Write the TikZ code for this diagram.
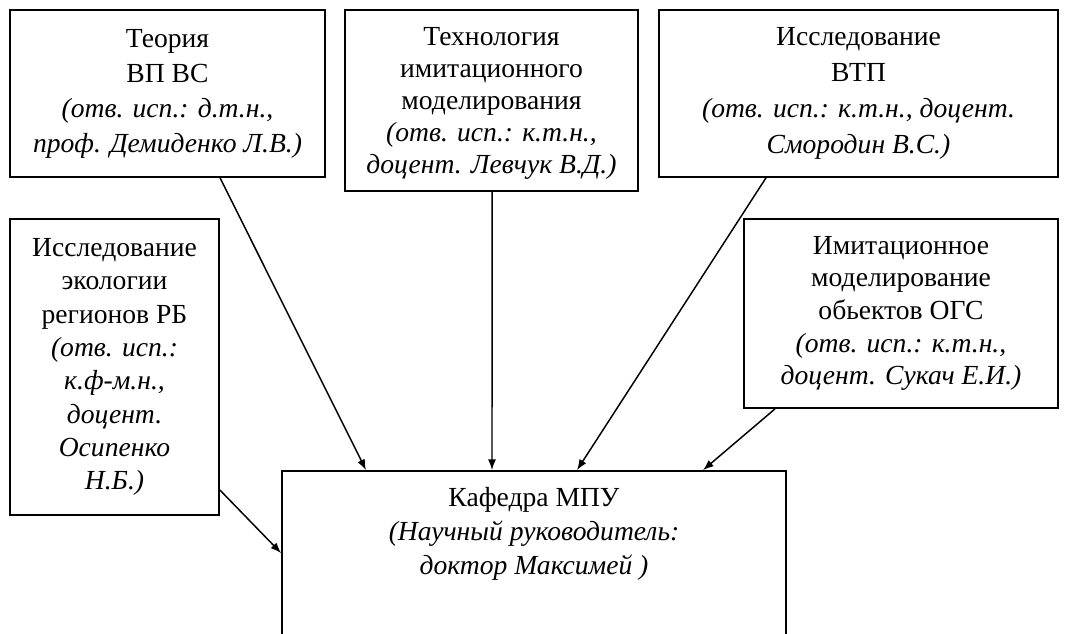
\documentclass[tikz,border=0pt]{standalone}
\usepackage{fontspec}
\setmainfont{Liberation Serif}
\usetikzlibrary{arrows.meta}
\begin{document}
\begin{tikzpicture}[x=0.75pt,y=-0.75pt,
  box/.style={draw, line width=1.3pt, align=center, inner sep=0pt,
    font=\fontsize{20.7}{25.5}\selectfont},
  txt/.style={align=center, inner sep=0pt, font=\fontsize{20.7}{25.5}\selectfont},
  arr/.style={line width=1.1pt, -{Latex[length=8pt,width=6pt]}}]
\useasboundingbox (0,0) rectangle (1069,634);
\clip (0,0) rectangle (1069,634);

\node[box, minimum width=236.25pt, minimum height=125.25pt,
  font=\fontsize{20.7}{26.25}\selectfont] (A) at (167.5,93.5)
  {Теория\\ВП ВС\\\textit{(отв. исп.: д.т.н.,}\\\textit{проф. Демиденко Л.В.)}};
\node[box, minimum width=219.75pt, minimum height=135.75pt, text depth=-3pt,
  font=\fontsize{20.7}{24}\selectfont] (B) at (491.5,100.5)
  {Технология\\имитационного\\моделирования\\\textit{(отв. исп.: к.т.н.,}\\\textit{доцент. Левчук В.Д.)}};
\node[box, minimum width=299.25pt, minimum height=125.25pt,
  font=\fontsize{20.7}{27}\selectfont] (C) at (858.5,93.5)
  {Исследование\\ВТП\\\textit{(отв. исп.: к.т.н., доцент.}\\\textit{Смородин В.С.)}};
\node[box, minimum width=156.75pt, minimum height=222pt,
  font=\fontsize{20.7}{25}\selectfont] (D) at (114.5,367)
  {Исследование\\экологии\\регионов РБ\\\textit{(отв. исп.:}\\\textit{к.ф-м.н.,}\\\textit{доцент.}\\\textit{Осипенко}\\\textit{Н.Б.)}};
\node[box, minimum width=235.5pt, minimum height=141.75pt,
  font=\fontsize{20.7}{24.5}\selectfont] (E) at (901,313.5)
  {Имитационное\\моделирование\\обьектов ОГС\\\textit{(отв. исп.: к.т.н.,}\\\textit{доцент. Сукач Е.И.)}};
\node[box, minimum width=378pt, minimum height=156.75pt] (F) at (534,575.5) {};
\node[txt, anchor=north] (Ft) at ([yshift=-12.75pt]F.north)
  {Кафедра МПУ\\\textit{(Научный руководитель:}\\\textit{доктор Максимей )}};

\draw[arr] ([xshift=39.4pt]A.south) -- ([xshift=-126pt]F.north);
\draw[arr] ([xshift=0.4pt]B.south) -- ([xshift=-31.5pt]F.north);
\draw[arr] ([xshift=-69.4pt]C.south) -- ([xshift=32.25pt]F.north);
\draw[arr] ([xshift=-94.5pt]E.south) -- ([xshift=126.75pt]F.north);
\draw[arr] ([yshift=-92.25pt]D.east) -- ([yshift=-62.25pt]F.north west);
\end{tikzpicture}
\end{document}
